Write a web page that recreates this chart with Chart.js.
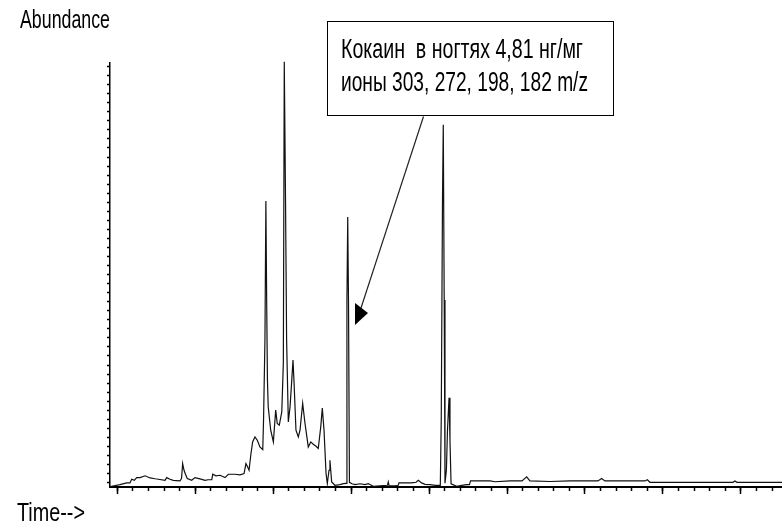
<!DOCTYPE html>
<html>
<head>
<meta charset="utf-8">
<script src="https://cdn.jsdelivr.net/npm/chart.js@4.4.1/dist/chart.umd.min.js"></script>
<style>
    body { margin: 0; background: #fff; }
    #wrap { position: relative; width: 782px; height: 524px; overflow: hidden; }
    #chart { position: absolute; left: 0; top: 0; }
    .fit {
        position: absolute;
        display: inline-block;
        white-space: pre;
        line-height: 1;
        color: #000;
        font-family: "Liberation Sans Narrow", "Liberation Sans", Arial, sans-serif;
        transform-origin: 0 0;
    }
    #note-box {
        position: absolute;
        left: 327px; top: 21px; width: 287px; height: 95px;
        box-sizing: border-box;
        border: 1.5px solid #000;
    }
    #arrow { position: absolute; left: 0; top: 0; pointer-events: none; }
</style>
</head>
<body>
<div id="wrap">
    <canvas id="chart" width="782" height="524"></canvas>
    <div id="note-box"></div>
    <span class="fit" data-w="90" style="left:20px; top:7px; font-size:25px;">Abundance</span>
    <span class="fit" data-w="68" style="left:17px; top:500px; font-size:25.5px;">Time--&gt;</span>
    <span class="fit" data-w="242" style="left:341px; top:34.6px; font-size:28px;">Кокаин  в ногтях 4,81 нг/мг</span>
    <span class="fit" data-w="247" style="left:341px; top:68px; font-size:28px;">ионы 303, 272, 198, 182 m/z</span>
    <svg id="arrow" width="782" height="524">
        <line x1="423.5" y1="116.5" x2="361" y2="308" stroke="#222" stroke-width="1.2"/>
        <polygon points="355,303 368,313 355,325" fill="#000"/>
    </svg>
</div>

<script>
// retention time, in minor tick units
const times = [
    -0.47, -0.36, 0.17, 0.60, 0.81, 0.92, 1.09, 1.24, 1.46, 1.78,
    2.10, 2.42, 2.63, 3.06, 3.17, 3.38, 3.59, 4.02, 4.12, 4.19,
    4.28, 4.37, 4.49, 4.77, 4.98, 5.30, 5.63, 5.82, 6.06, 6.12,
    6.33, 6.59, 6.91, 7.12, 7.55, 7.87, 8.13, 8.25, 8.34, 8.45,
    8.56, 8.68, 8.83, 8.98, 9.15, 9.33, 9.38, 9.47, 9.53, 9.58,
    9.63, 9.68, 9.84, 10.01, 10.16, 10.26, 10.39, 10.55, 10.65, 10.71,
    10.79, 10.86, 10.97, 11.08, 11.17, 11.27, 11.34, 11.46, 11.61, 11.72,
    11.89, 12.04, 12.25, 12.41, 12.57, 12.75, 12.89, 13.05, 13.15, 13.26,
    13.39, 13.47, 13.58, 13.64, 13.75, 13.96, 14.28, 14.50, 14.69, 14.73,
    14.78, 14.83, 14.89, 15.05, 15.25, 15.57, 15.89, 16.10, 16.42, 16.85,
    17.33, 17.38, 17.43, 17.81, 18.02, 18.07, 18.45, 18.88, 19.16, 19.31,
    19.52, 19.74, 20.06, 20.38, 20.72, 20.78, 20.86, 20.91, 20.97, 21.02,
    21.11, 21.18, 21.28, 21.34, 21.41, 21.77, 22.09, 22.41, 22.59, 22.66,
    23.91, 24.23, 25.19, 25.96, 26.26, 26.47, 27.75, 29.04, 30.83, 31.07,
    31.28, 32.25, 32.57, 33.85, 34.00, 34.17, 37.38, 39.49, 39.62, 39.75,
    42.64
];

// abundance, in y tick units
const abundance = [
    -0.45, -0.41, -0.22, -0.04, -0.04, 0.37, 0.25, 0.55, 0.55, 0.75,
    0.51, 0.42, 0.37, 0.25, 0.55, 0.37, 0.25, 0.18, 0.48, 2.10,
    1.36, 0.92, 0.44, 0.25, 0.55, 0.40, 0.25, 0.31, 0.33, 0.92,
    0.75, 0.81, 0.55, 0.92, 0.92, 0.86, 1.00, 2.10, 1.81, 1.36,
    3.02, 4.50, 5.05, 4.68, 3.94, 3.65, 6.90, 15.76, 31.15, 20.19,
    11.33, 8.37, 5.79, 4.50, 8.01, 6.53, 6.35, 7.82, 13.18, 46.55,
    31.24, 15.76, 6.71, 8.37, 10.78, 13.54, 10.96, 5.79, 5.05, 5.79,
    8.75, 6.53, 3.94, 4.50, 4.24, 4.02, 3.77, 6.16, 8.23, 5.79,
    1.00, -0.11, 1.36, 2.47, 0.07, -0.30, -0.22, -0.11, -0.08, 20.19,
    29.37, 20.19, 0.03, -0.13, -0.22, -0.13, -0.22, -0.11, -0.41, -0.35,
    -0.30, 0.07, -0.35, -0.35, -0.30, -0.04, -0.04, -0.04, 0.03, 0.25,
    -0.04, -0.19, -0.22, -0.30, -0.30, 6.90, 31.26, 39.57, 20.19, -0.08,
    1.36, 5.79, 9.37, 4.68, -0.13, -0.41, -0.30, -0.22, -0.22, 0.18,
    0.18, 0.09, 0.18, 0.18, 0.64, 0.18, 0.12, 0.18, 0.18, 0.44,
    0.18, 0.18, 0.20, 0.18, 0.31, 0.03, 0.03, 0.03, 0.18, 0.03,
    0.03
];

const xMin = -0.47, xMax = 42.64;
const yMin = -0.49, yMax = 46.4;

// squeeze the labels to the narrow look of the original
document.querySelectorAll('.fit').forEach(el => {
    const w = el.getBoundingClientRect().width;
    el.style.transform = `scaleX(${el.dataset.w / w})`;
});

const axisGrid = (len) => ({
    drawOnChartArea: false,
    tickLength: len,
    tickWidth: 1.5,
    tickColor: '#000'
});

new Chart(document.getElementById('chart').getContext('2d'), {
    type: 'line',
    data: {
        datasets: [{
            data: times.map((t, i) => ({ x: t, y: abundance[i] })),
            borderColor: '#111',
            borderWidth: 1.2,
            pointRadius: 0,
            tension: 0,
            fill: false,
            clip: false
        }]
    },
    options: {
        responsive: false,
        animation: false,
        events: [],
        layout: { padding: { top: 63, left: 0, right: 0, bottom: 0 } },
        plugins: { legend: { display: false }, tooltip: { enabled: false } },
        scales: {
            x: {
                type: 'linear',
                position: 'bottom',
                min: xMin, max: xMax,
                afterFit: (s) => { s.height = 37; },
                ticks: { display: false, stepSize: 1, includeBounds: false, maxTicksLimit: 1000 },
                grid: axisGrid(4),
                border: { color: '#000', width: 2 }
            },
            x2: {
                type: 'linear',
                axis: 'x',
                position: { y: yMin },
                min: xMin, max: xMax,
                ticks: { display: false, stepSize: 5, includeBounds: false, maxTicksLimit: 1000 },
                grid: axisGrid(7),
                border: { display: false }
            },
            y: {
                type: 'linear',
                min: yMin, max: yMax,
                afterFit: (s) => { s.width = 110; },
                ticks: { display: false, stepSize: 1, includeBounds: false, maxTicksLimit: 1000 },
                grid: axisGrid(3),
                border: { color: '#000', width: 1.5 }
            }
        }
    }
});
</script>
</body>
</html>
